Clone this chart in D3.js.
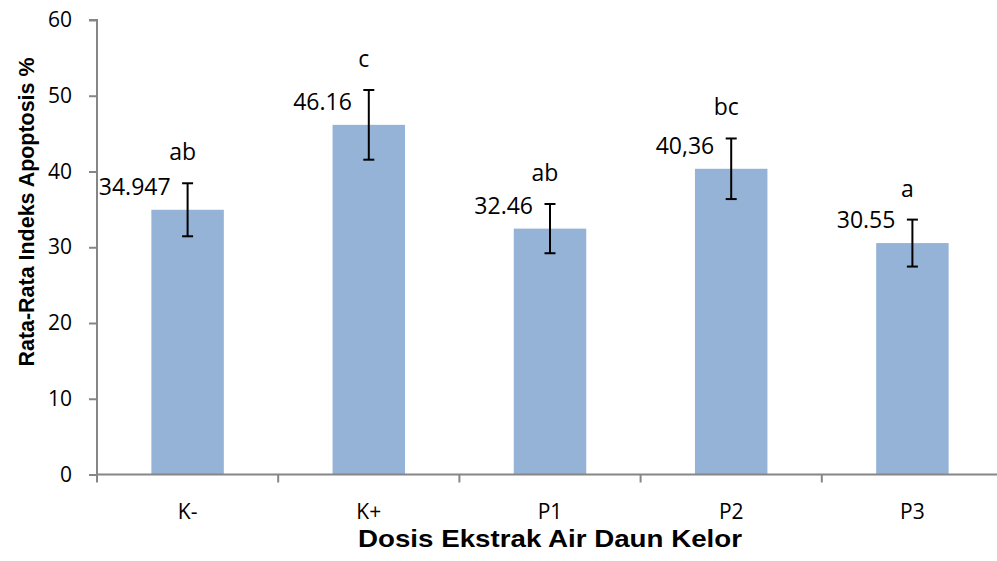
<!DOCTYPE html>
<html><head><meta charset="utf-8">
<script src="https://cdn.jsdelivr.net/npm/d3@7"></script>
<style>body{margin:0;background:#fff}svg{display:block}</style>
</head><body>
<svg id="c" width="997" height="561"></svg>
<script>
const categories = ["K-", "K+", "P1", "P2", "P3"];
const means = [34.947, 46.16, 32.46, 40.36, 30.55];
const errors = [3.5, 4.6, 3.25, 4.0, 3.1];
const valueLabels = ["34.947", "46.16", "32.46", "40,36", "30.55"];
const letterLabels = ["ab", "c", "ab", "bc", "a"];
const yTicks = [0, 10, 20, 30, 40, 50, 60];

(function () {
const svg = d3.select("#c");
const mLeft = 97, mRight = 1003, mTop = 20, mBottom = 474.5;
const x = d3.scaleBand().domain(categories).range([mLeft, mRight]).padding(0);
const y = d3.scaleLinear().domain([0, 60]).range([mBottom, mTop]);
const axisColor = "#868686";
const font = "'Open Sans', sans-serif";

// bars
const bw = x.bandwidth() * 0.4;
svg.selectAll("rect.bar").data(categories).join("rect")
  .attr("class", "bar")
  .attr("x", (d) => x(d) + x.bandwidth() / 2 - bw / 2)
  .attr("width", bw)
  .attr("y", (d, i) => y(means[i]))
  .attr("height", (d, i) => y(0) - y(means[i]))
  .attr("fill", "#95B3D7");

// y axis
const ya = svg.append("g").attr("transform", `translate(${mLeft},0)`)
  .call(d3.axisLeft(y).tickValues(yTicks).tickSize(8).tickPadding(17).tickFormat(d3.format("d")));
ya.select(".domain").attr("stroke", axisColor).attr("stroke-width", 2).attr("d", `M-8,${mTop}H0V${mBottom}`);
ya.selectAll(".tick line").attr("stroke", axisColor).attr("stroke-width", 2);
ya.selectAll(".tick text").attr("font-family", font).attr("font-size", 21).attr("fill", "#000");

// x axis
const xa = svg.append("g").attr("transform", `translate(0,${mBottom})`)
  .call(d3.axisBottom(x).tickSize(0).tickPadding(30));
xa.select(".domain").attr("stroke", axisColor).attr("stroke-width", 2).attr("d", `M${mLeft},0H${mRight}`);
xa.selectAll(".tick text").attr("font-family", font).attr("font-size", 21).attr("fill", "#000");
const bounds = categories.map((d) => x(d)).concat([mRight]);
xa.selectAll("line.sep").data(bounds).join("line").attr("class", "sep")
  .attr("x1", (d) => d).attr("x2", (d) => d).attr("y1", 0).attr("y2", 8)
  .attr("stroke", axisColor).attr("stroke-width", 2);

// error bars
const cap = 5.5;
const eg = svg.append("g").attr("stroke", "#000").attr("stroke-width", 2);
categories.forEach((c, i) => {
  const cx = x(c) + x.bandwidth() / 2;
  const y1 = y(means[i] + errors[i]), y0 = y(means[i] - errors[i]);
  eg.append("line").attr("x1", cx).attr("x2", cx).attr("y1", y1).attr("y2", y0);
  eg.append("line").attr("x1", cx - cap).attr("x2", cx + cap).attr("y1", y1).attr("y2", y1);
  eg.append("line").attr("x1", cx - cap).attr("x2", cx + cap).attr("y1", y0).attr("y2", y0);
});

// labels
categories.forEach((c, i) => {
  const cx = x(c) + x.bandwidth() / 2;
  svg.append("text").attr("x", cx - 17).attr("y", y(means[i]) - 15)
    .attr("text-anchor", "end").attr("font-family", font).attr("font-size", 23)
    .text(valueLabels[i]);
  svg.append("text").attr("x", cx - 5).attr("y", y(means[i] + errors[i]) - 23)
    .attr("text-anchor", "middle").attr("font-family", font).attr("font-size", 23)
    .text(letterLabels[i]);
});

// axis titles
svg.append("text").attr("x", 550).attr("y", 547).attr("text-anchor", "middle")
  .attr("font-family", "'Liberation Sans', Arial, sans-serif").attr("font-weight", "bold")
  .attr("font-size", 24).attr("textLength", 384).attr("lengthAdjust", "spacingAndGlyphs")
  .text("Dosis Ekstrak Air Daun Kelor");
svg.append("text").attr("transform", "translate(34,212) rotate(-90)").attr("text-anchor", "middle")
  .attr("font-family", "'Liberation Sans', Arial, sans-serif").attr("font-weight", "bold")
  .attr("font-size", 22).attr("textLength", 309).attr("lengthAdjust", "spacingAndGlyphs")
  .text("Rata-Rata Indeks Apoptosis %");
})();
</script>
</body></html>
